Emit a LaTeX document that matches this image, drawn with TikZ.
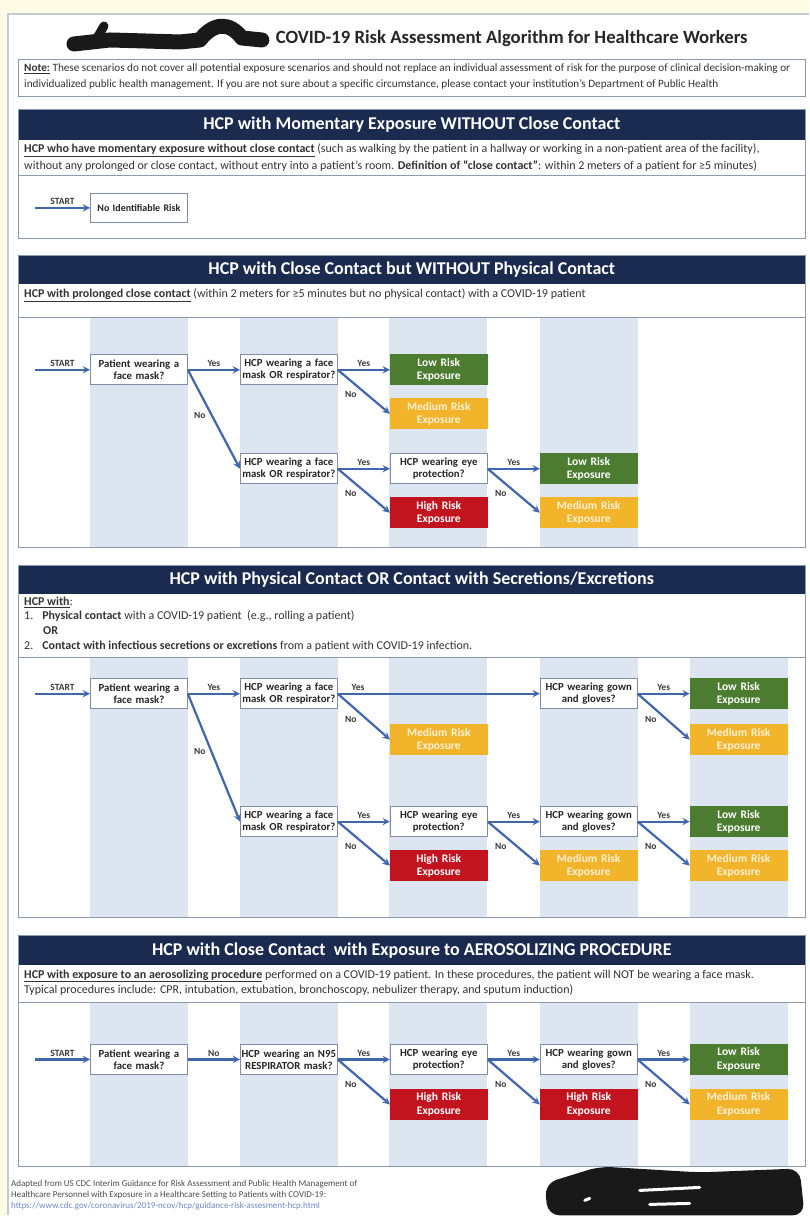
\documentclass[tikz,border=0pt]{standalone}
\usepackage{fontspec}
\setmainfont{Carlito}
\usetikzlibrary{arrows,positioning,calc}

\definecolor{cream}{HTML}{FEFBE4}
\definecolor{pageline}{HTML}{C3CAD8}
\definecolor{frameline}{HTML}{8D9AB4}
\definecolor{navy}{HTML}{1B2A4F}
\definecolor{stripe}{HTML}{DCE5F0}
\definecolor{flowblue}{HTML}{4066AE}
\definecolor{boxline}{HTML}{7F8CA6}
\definecolor{lowgreen}{HTML}{4B7C2F}
\definecolor{medamber}{HTML}{F2B42B}
\definecolor{highred}{HTML}{C2141F}
\definecolor{ansgray}{HTML}{3A3A3A}
\definecolor{linkblue}{HTML}{6A8AC8}

\begin{document}
\begin{tikzpicture}[x=1pt,y=-1pt,node distance=150pt,on grid,auto,>=stealth,
  qbox/.style={draw=boxline,fill=white,line width=0.8pt,minimum width=97pt,minimum height=30pt,text width=95pt,inner sep=1pt,align=center,font=\fontsize{10.8}{12.3}\selectfont\bfseries,text=black!85},
  low/.style={qbox,draw=lowgreen,fill=lowgreen,text=white,font=\fontsize{11.5}{13.3}\selectfont\bfseries},
  med/.style={low,draw=medamber,fill=medamber,text=white!80!medamber},
  high/.style={low,draw=highred,fill=highred},
  flow/.style={->,flowblue,line width=2.2pt},
  ans/.style={font=\fontsize{9.5}{11}\selectfont\bfseries,text=ansgray,inner sep=2pt},
  frame/.style={draw=frameline,line width=1pt},
  head/.style={text=white,font=\fontsize{18}{20}\selectfont\bfseries},
  desc/.style={anchor=north west,inner sep=0pt,align=left,font=\fontsize{12}{16.5}\selectfont,text=black!80},
  scribble/.style={line width=15pt,line cap=round,line join=round,black!90}]

% page
\fill[cream] (0,0) rectangle (809,1216);
\fill[white] (8,14) rectangle (809,1216);
\draw[pageline,line width=1.2pt] (8,1216) -- (8,14) -- (809,14);

% title
\draw[scribble] (74,44) -- (110,40) -- (180,42) -- (200,40) .. controls (214,22) and (230,22) .. (242,38) -- (262,40);
\draw[scribble,line width=9pt] (96,40) -- (104,26);
\node[font=\fontsize{18.7}{22}\selectfont\bfseries,text=black!85] (title) at (512,39) {COVID-19 Risk Assessment Algorithm for Healthcare Workers};

% note
\draw[frame] (19,60) rectangle (806,97);
\node[desc,font=\fontsize{11.2}{15.5}\selectfont] (note) at (24,64) {\underline{\textbf{Note:}} These scenarios do not cover all potential exposure scenarios and should not replace an individual assessment of risk for the purpose of clinical decision-making or\\individualized public health management. If you are not sure about a specific circumstance, please contact your institution's Department of Public Health};

% momentary exposure
\fill[navy] (19,110) rectangle (806,140);
\draw[frame] (19,110) rectangle (806,239);
\draw[frame] (19,176) -- (806,176);
\node[head] (m_head) at (412,125) {HCP with Momentary Exposure WITHOUT Close Contact};
\node[desc] (m_desc) at (24,144) {\underline{\textbf{HCP who have momentary exposure without close contact}} (such as walking by the patient in a hallway or working in a non-patient area of the facility),\\without any prolonged or close contact, without entry into a patient's room. \textbf{Definition of ``close contact''}: within 2 meters of a patient for ≥5 minutes)};
\node[qbox,font=\fontsize{10}{11}\selectfont\bfseries] (m_0) at (139,208) {No Identifiable Risk};
\coordinate (m_s) at (35,208);
\path[flow] (m_s) edge node[ans] {START} (m_0);

% close contact
\foreach \x in {90,240,389,540} \fill[stripe] (\x,318) rectangle ++(98,230);
\fill[navy] (19,256) rectangle (806,284);
\draw[frame] (19,256) rectangle (806,548);
\draw[frame] (19,318) -- (806,318);
\node[head] (c_head) at (412,270) {HCP with Close Contact but WITHOUT Physical Contact};
\node[desc] (c_desc) at (24,289) {\underline{\textbf{HCP with prolonged close contact}} (within 2 meters for ≥5 minutes but no physical contact) with a COVID-19 patient};
\node[qbox] (c_0) at (139,370) {Patient wearing a\\face mask?};
\node[qbox] (c_1) [right=of c_0] {HCP wearing a face\\mask OR respirator?};
\node[low] (c_2) [right=of c_1] {Low Risk\\Exposure};
\node[med] (c_3) [below=44pt of c_2] {Medium Risk\\Exposure};
\node[qbox] (c_4) [below=99pt of c_1] {HCP wearing a face\\mask OR respirator?};
\node[qbox] (c_5) [right=of c_4] {HCP wearing eye\\protection?};
\node[high] (c_6) [below=44pt of c_5] {High Risk\\Exposure};
\node[low] (c_7) [right=of c_5] {Low Risk\\Exposure};
\node[med] (c_8) [below=44pt of c_7] {Medium Risk\\Exposure};
\coordinate (c_s) at (35,370);
\path[flow]
  (c_s) edge node[ans] {START} (c_0)
  (c_0) edge node[ans] {Yes} (c_1)
  (c_0.east) edge node[ans,pos=0.4,swap] {No} (c_4.west)
  (c_1) edge node[ans] {Yes} (c_2)
  (c_1.east) edge node[ans,pos=0.42,swap] {No} (c_3.west)
  (c_4) edge node[ans] {Yes} (c_5)
  (c_4.east) edge node[ans,pos=0.42,swap] {No} (c_6.west)
  (c_5) edge node[ans] {Yes} (c_7)
  (c_5.east) edge node[ans,pos=0.42,swap] {No} (c_8.west);

% physical contact
\foreach \x in {90,240,389,540,690} \fill[stripe] (\x,658) rectangle ++(98,260);
\fill[navy] (19,566) rectangle (806,594);
\draw[frame] (19,566) rectangle (806,918);
\draw[frame] (19,658) -- (806,658);
\node[head] (p_head) at (412,580) {HCP with Physical Contact OR Contact with Secretions/Excretions};
\node[desc,font=\fontsize{12}{14.6}\selectfont] (p_desc) at (24,597) {\underline{\textbf{HCP with}}:\\1.\hspace{9pt}\textbf{Physical contact} with a COVID-19 patient\ \ (e.g., rolling a patient)\\\hspace{19pt}\textbf{OR}\\2.\hspace{9pt}\textbf{Contact with infectious secretions or excretions} from a patient with COVID-19 infection.};
\node[qbox] (p_0) at (139,694) {Patient wearing a\\face mask?};
\node[qbox] (p_1) [right=of p_0] {HCP wearing a face\\mask OR respirator?};
\node[med] (p_2) [below right=46pt and 150pt of p_1] {Medium Risk\\Exposure};
\node[qbox] (p_3) [right=300pt of p_1] {HCP wearing gown\\and gloves?};
\node[low] (p_4) [right=of p_3] {Low Risk\\Exposure};
\node[med] (p_5) [below=46pt of p_4] {Medium Risk\\Exposure};
\node[qbox] (p_6) [below=128pt of p_1] {HCP wearing a face\\mask OR respirator?};
\node[qbox] (p_7) [right=of p_6] {HCP wearing eye\\protection?};
\node[high] (p_8) [below=44pt of p_7] {High Risk\\Exposure};
\node[qbox] (p_9) [right=of p_7] {HCP wearing gown\\and gloves?};
\node[med] (p_10) [below=44pt of p_9] {Medium Risk\\Exposure};
\node[low] (p_11) [right=of p_9] {Low Risk\\Exposure};
\node[med] (p_12) [below=44pt of p_11] {Medium Risk\\Exposure};
\coordinate (p_s) at (35,694);
\path[flow]
  (p_s) edge node[ans] {START} (p_0)
  (p_0) edge node[ans] {Yes} (p_1)
  (p_0.east) edge node[ans,pos=0.4,swap] {No} (p_6.west)
  (p_1) edge node[ans,pos=0.1] {Yes} (p_3)
  (p_1.east) edge node[ans,pos=0.42,swap] {No} (p_2.west)
  (p_3) edge node[ans] {Yes} (p_4)
  (p_3.east) edge node[ans,pos=0.42,swap] {No} (p_5.west)
  (p_6) edge node[ans] {Yes} (p_7)
  (p_6.east) edge node[ans,pos=0.42,swap] {No} (p_8.west)
  (p_7) edge node[ans] {Yes} (p_9)
  (p_7.east) edge node[ans,pos=0.42,swap] {No} (p_10.west)
  (p_9) edge node[ans] {Yes} (p_11)
  (p_9.east) edge node[ans,pos=0.42,swap] {No} (p_12.west);

% aerosolizing procedure
\foreach \x in {90,240,389,540,690} \fill[stripe] (\x,1003) rectangle ++(98,164);
\fill[navy] (19,936) rectangle (806,965);
\draw[frame] (19,936) rectangle (806,1167);
\draw[frame] (19,1003) -- (806,1003);
\node[head] (a_head) at (412,951) {HCP with Close Contact\ \ with Exposure to AEROSOLIZING PROCEDURE};
\node[desc,font=\fontsize{12}{15}\selectfont] (a_desc) at (24,970) {\underline{\textbf{HCP with exposure to an aerosolizing procedure}} performed on a COVID-19 patient. In these procedures, the patient will NOT be wearing a face mask.\\Typical procedures include: CPR, intubation, extubation, bronchoscopy, nebulizer therapy, and sputum induction)};
\node[qbox] (a_0) at (139,1060) {Patient wearing a\\face mask?};
\node[qbox] (a_1) [right=of a_0] {HCP wearing an N95\\RESPIRATOR mask?};
\node[qbox] (a_2) [right=of a_1] {HCP wearing eye\\protection?};
\node[high] (a_3) [below=45pt of a_2] {High Risk\\Exposure};
\node[qbox] (a_4) [right=of a_2] {HCP wearing gown\\and gloves?};
\node[high] (a_5) [below=45pt of a_4] {High Risk\\Exposure};
\node[low] (a_6) [right=of a_4] {Low Risk\\Exposure};
\node[med] (a_7) [below=45pt of a_6] {Medium Risk\\Exposure};
\coordinate (a_s) at (35,1060);
\path[flow]
  (a_s) edge node[ans] {START} (a_0)
  (a_0) edge node[ans] {No} (a_1)
  (a_1) edge node[ans] {Yes} (a_2)
  (a_1.east) edge node[ans,pos=0.42,swap] {No} (a_3.west)
  (a_2) edge node[ans] {Yes} (a_4)
  (a_2.east) edge node[ans,pos=0.42,swap] {No} (a_5.west)
  (a_4) edge node[ans] {Yes} (a_6)
  (a_4.east) edge node[ans,pos=0.42,swap] {No} (a_7.west);

% source
\node[anchor=north west,inner sep=0pt,align=left,font=\fontsize{9}{10.8}\selectfont,text=black!70] (src) at (11,1181) {Adapted from US CDC Interim Guidance for Risk Assessment and Public Health Management of\\Healthcare Personnel with Exposure in a Healthcare Setting to Patients with COVID-19:\\\textcolor{linkblue}{https://www.cdc.gov/coronavirus/2019-ncov/hcp/guidance-risk-assesment-hcp.html}};
\fill[black!90,rounded corners=12pt] (545,1184) -- (600,1167) -- (700,1173) -- (800,1169) -- (805,1216) -- (548,1216) -- cycle;
\draw[white,line width=3pt,line cap=round] (640,1191) -- (700,1188) (650,1205) -- (690,1204) (585,1201) -- (590,1199);
\end{tikzpicture}
\end{document}
